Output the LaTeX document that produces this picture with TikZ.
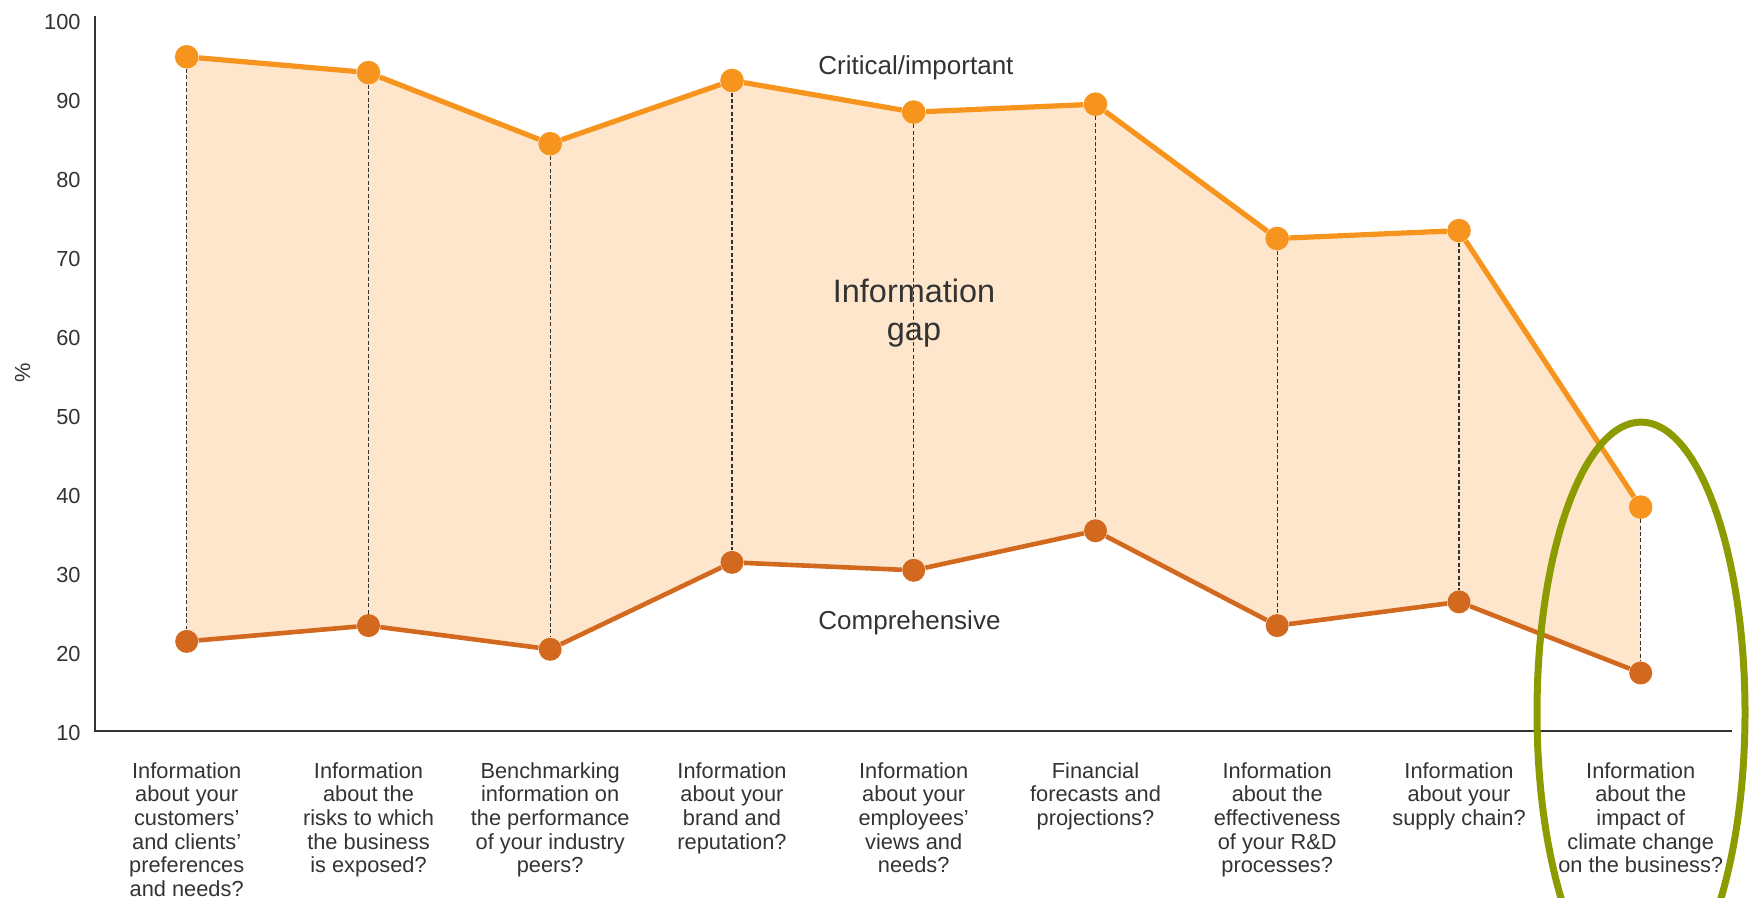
\documentclass[tikz,border=0pt]{standalone}
\usepackage{fontspec}
\setmainfont{Liberation Sans}
\usepackage{xcolor}
\usetikzlibrary{backgrounds}

\definecolor{critorange}{HTML}{F7941D}
\definecolor{compbrown}{HTML}{D2691E}
\definecolor{gappeach}{HTML}{FDE6CC}
\definecolor{markgreen}{HTML}{8C9C00}
\definecolor{labelgray}{HTML}{333333}

\begin{document}
\begin{tikzpicture}[x=0.5pt, y=3.95pt,
  critdot/.style={circle, fill=critorange, minimum size=11.8pt, inner sep=0pt},
  compdot/.style={circle, fill=compbrown, minimum size=11.5pt, inner sep=0pt},
  critline/.style={draw=critorange, line width=2.6pt, line join=round},
  compline/.style={draw=compbrown, line width=2.3pt, line join=round},
  gapline/.style={draw=black!80, line width=0.7pt, dash pattern=on 2pt off 1.2pt},
  axisline/.style={draw=labelgray, line width=0.8pt},
  ticklabel/.style={anchor=east, inner sep=0pt, text=labelgray, font=\fontsize{10.9}{12}\selectfont},
  question/.style={anchor=north, inner sep=0pt, align=center, text=labelgray, font=\fontsize{10.9}{11.85}\selectfont},
  series/.style={anchor=west, inner sep=0pt, text=labelgray, font=\fontsize{13}{15}\selectfont},
  ringmark/.style={draw=markgreen, line width=3.5pt}]

\useasboundingbox (0,-11.48) rectangle (1751,102.19);
\clip (0,-11.48) rectangle (1751,102.19);

% axes
\coordinate (ytop) at (95,100.16);
\coordinate (origin) at (95,9.66);
\coordinate (xend) at (1732,9.66);
\draw[axisline] (ytop) -- (origin) -- (xend);

\node[ticklabel] (t100) at (81,99.4) {100};
\node[ticklabel] (t90) at (81,89.4) {90};
\node[ticklabel] (t80) at (81,79.4) {80};
\node[ticklabel] (t70) at (81,69.4) {70};
\node[ticklabel] (t60) at (81,59.4) {60};
\node[ticklabel] (t50) at (81,49.4) {50};
\node[ticklabel] (t40) at (81,39.4) {40};
\node[ticklabel] (t30) at (81,29.4) {30};
\node[ticklabel] (t20) at (81,19.4) {20};
\node[ticklabel] (t10) at (81,9.4) {10};
\node[ticklabel, anchor=center, rotate=90] (pct) at (22.7,55) {\%};

% critical/important
\node[critdot] (c1) at (186.7,95) {};
\node[critdot] (c2) at (368.5,93) {};
\node[critdot] (c3) at (550.2,84) {};
\node[critdot] (c4) at (732.0,92) {};
\node[critdot] (c5) at (913.7,88) {};
\node[critdot] (c6) at (1095.5,89) {};
\node[critdot] (c7) at (1277.2,72) {};
\node[critdot] (c8) at (1459.0,73) {};
\node[critdot] (c9) at (1640.7,38) {};

% comprehensive
\node[compdot] (p1) at (186.7,21) {};
\node[compdot] (p2) at (368.5,23) {};
\node[compdot] (p3) at (550.2,20) {};
\node[compdot] (p4) at (732.0,31) {};
\node[compdot] (p5) at (913.7,30) {};
\node[compdot] (p6) at (1095.5,35) {};
\node[compdot] (p7) at (1277.2,23) {};
\node[compdot] (p8) at (1459.0,26) {};
\node[compdot] (p9) at (1640.7,17) {};

\begin{scope}[on background layer]
\fill[gappeach] (c1.center) -- (c2.center) -- (c3.center) -- (c4.center) -- (c5.center)
  -- (c6.center) -- (c7.center) -- (c8.center) -- (c9.center)
  -- (p9.center) -- (p8.center) -- (p7.center) -- (p6.center) -- (p5.center)
  -- (p4.center) -- (p3.center) -- (p2.center) -- (p1.center) -- cycle;
\end{scope}

\path[gapline]
(c1) edge (p1) (c2) edge (p2) (c3) edge (p3)
(c4) edge (p4) (c5) edge (p5) (c6) edge (p6)
(c7) edge (p7) (c8) edge (p8) (c9) edge (p9);

\draw[critline] (c1) -- (c2) -- (c3) -- (c4) -- (c5) -- (c6) -- (c7) -- (c8) -- (c9);
\draw[compline] (p1) -- (p2) -- (p3) -- (p4) -- (p5) -- (p6) -- (p7) -- (p8) -- (p9);

\node[series] (crit) at (818,93.58) {Critical/important};
\node[series] (comp) at (818,23.33) {Comprehensive};
\node[align=center, inner sep=0pt, text=labelgray, font=\fontsize{16.2}{19}\selectfont] (gap) at (914,62.57) {Information\\gap};

% questions
\node[question] (q1) at (186.7,5.75) {Information\\about your\\customers'\\and clients'\\preferences\\and needs?};
\node[question] (q2) at (368.5,5.75) {Information\\about the\\risks to which\\the business\\is exposed?};
\node[question] (q3) at (550.2,5.75) {Benchmarking\\information on\\the performance\\of your industry\\peers?};
\node[question] (q4) at (732.0,5.75) {Information\\about your\\brand and\\reputation?};
\node[question] (q5) at (913.7,5.75) {Information\\about your\\employees'\\views and\\needs?};
\node[question] (q6) at (1095.5,5.75) {Financial\\forecasts and\\projections?};
\node[question] (q7) at (1277.2,5.75) {Information\\about the\\effectiveness\\of your R\&D\\processes?};
\node[question] (q8) at (1459.0,5.75) {Information\\about your\\supply chain?};
\node[question] (q9) at (1640.7,5.75) {Information\\about the\\impact of\\climate change\\on the business?};

\draw[ringmark] (1641,12) ellipse [x radius=52pt, y radius=145.2pt];

\end{tikzpicture}
\end{document}
